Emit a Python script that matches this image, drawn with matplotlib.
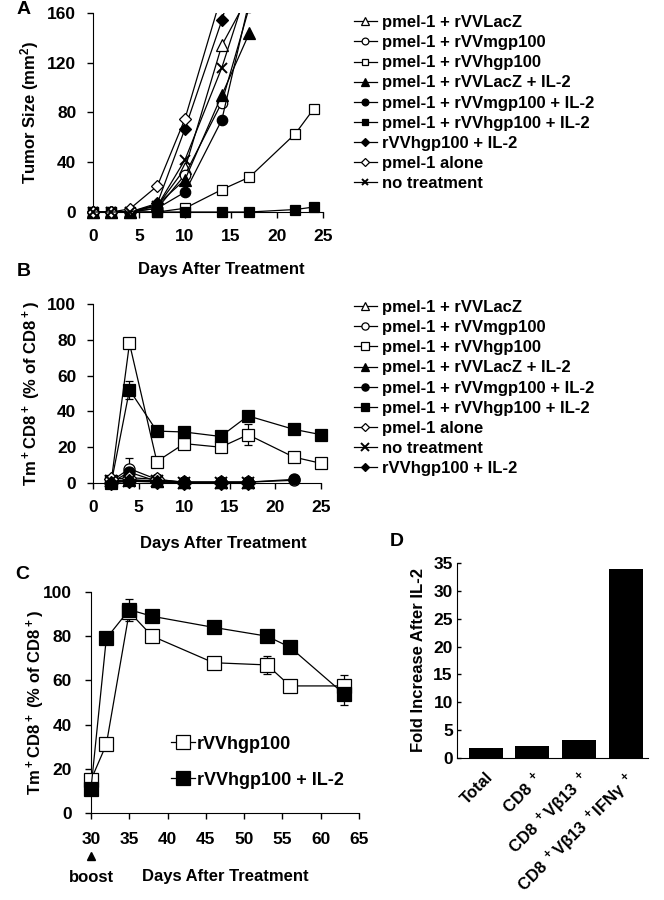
import numpy as np
import matplotlib
matplotlib.use('Agg')
import matplotlib.pyplot as plt
from matplotlib.patches import Rectangle
import matplotlib.transforms as mtransforms

plt.rcParams['font.family'] = ['Liberation Sans', 'DejaVu Sans']
plt.rcParams['font.weight'] = 'bold'
plt.rcParams['axes.labelweight'] = 'bold'
plt.rcParams['mathtext.fontset'] = 'custom'
plt.rcParams['mathtext.rm'] = 'Liberation Sans:bold'
plt.rcParams['mathtext.bf'] = 'Liberation Sans:bold'
plt.rcParams['mathtext.default'] = 'bf'

nan = np.nan

# ---- Panel A: tumor size ----
days_a = [0, 2, 4, 7, 10, 14, 17, 22, 24]
a_lacz = [0, 0, 0, 5, 35, 134, 175, nan, nan]
a_mgp = [0, 0, 0, 3, 30, 88, 165, nan, nan]
a_hgp = [0, 0, 0, 0, 3, 18, 28, 63, 83]
a_lacz_il2 = [0, 0, 0, 6, 26, 94, 144, nan, nan]
a_mgp_il2 = [0, 0, 0, 3, 16, 74, 170, nan, nan]
a_hgp_il2 = [0, 0, 0, 0, 0, 0, 0, 2, 4]
a_vv_il2 = [0, 0, 0, 7, 67, 154, 230, nan, nan]
a_alone = [0, 0, 2.5, 21, 75, 175, nan, nan, nan]
a_none = [0, 0, 0, 5, 42, 116, 185, nan, nan]

# ---- Panel B: tetramer+ CD8 ----
days_b = [2, 4, 7, 10, 14, 17, 22, 25]
b_lacz = [1, 2, 1, 0.3, 0.3, 0.3, nan, nan]
b_mgp = [1, 8, 2, 0.5, 0.5, 0.5, 1.5, nan]
b_hgp = [1, 78, 12, 22, 20, 27, 14.5, 11]
b_lacz_il2 = [0.5, 1.5, 1, 0.3, 0.3, 0.3, nan, nan]
b_mgp_il2 = [0.5, 6, 1, 0.5, 0.5, 0.5, 2, nan]
b_hgp_il2 = [0, 52, 29, 28.5, 26, 37.5, 30, 27]
b_alone = [2, 3, 2, 0.3, 0.3, 0.3, nan, nan]
b_none = [1, 1, 1, 0.2, 0.2, 0.2, nan, nan]
b_vv_il2 = [0, 1, 0.5, 0.2, 0.2, 0.2, nan, nan]
b_hgp_err = [0, 0, 0, 0, 0, 6, 0, 0]
b_hgp_il2_err = [0, 5, 0, 0, 0, 0, 0, 0]
b_mgp_err = [0, 6, 0, 0, 0, 0, 0, 0]

# ---- Panel C: after boost ----
days_c = [30, 32, 35, 38, 46, 53, 56, 63]
c_hgp = [15, 31, 91, 80, 68, 67, 57.5, 57.5]
c_hgp_il2 = [11, 79, 92, 89, 84, 80, 75, 54]
c_hgp_err_lo = [0, 0, 4, 0, 0, 4, 0, 0]
c_hgp_err_hi = [0, 0, 0, 0, 0, 4, 0, 5]
c_hgp_il2_err_lo = [0, 0, 0, 0, 0, 0, 0, 5]
c_hgp_il2_err_hi = [0, 0, 5, 0, 0, 0, 0, 0]

# ---- Panel D: fold increase ----
d_labels = ['Total', 'CD8 $^+$', 'CD8 $^+$Vβ13 $^+$', 'CD8 $^+$Vβ13 $^+$IFNγ $^+$']
d_values = [1.8, 2.1, 3.3, 34]

# marker styles per group: (marker, filled)
styles = {
    'pmel-1 + rVVLacZ': ('^', False),
    'pmel-1 + rVVmgp100': ('o', False),
    'pmel-1 + rVVhgp100': ('s', False),
    'pmel-1 + rVVLacZ + IL-2': ('^', True),
    'pmel-1 + rVVmgp100 + IL-2': ('o', True),
    'pmel-1 + rVVhgp100 + IL-2': ('s', True),
    'rVVhgp100 + IL-2': ('D', True),
    'pmel-1 alone': ('D', False),
    'no treatment': ('x', True),
}

TICK = 12.5
LAB = 12
LEG = 12


def style_axes(ax, size=TICK, pad=7):
    for s in ['top', 'right']:
        ax.spines[s].set_visible(False)
    ax.tick_params(direction='out', length=4, width=1, labelsize=size, pad=pad)
    for lab in ax.get_xticklabels() + ax.get_yticklabels():
        lab.set_fontweight('bold')


def draw(ax, x, y, name, ms, err=None, clip=None):
    m, filled = styles[name]
    fc = 'black' if filled else 'white'
    msz = ms * (0.85 if m == 'D' else 1.0)
    if m == '^':
        msz = ms * 1.1
    if err is not None:
        ax.errorbar(x, y, yerr=err, fmt='none', ecolor='black', elinewidth=0.9,
                    capsize=3, capthick=0.9, zorder=2.5, clip_on=False)
    line, = ax.plot(x, y, color='black', lw=0.9, marker=m, ms=msz, mfc=fc,
                    mec='black', mew=1.4 if m == 'x' else 0.9, label=name, zorder=3)
    if clip is not None:
        line.set_clip_path(clip)
    else:
        line.set_clip_on(False)
    return line


fig = plt.figure(figsize=(6.64, 9.0), dpi=100)
W, H = 664.0, 900.0


def px_axes(left, top, right, bottom):
    return fig.add_axes([left / W, 1 - bottom / H, (right - left) / W, (bottom - top) / H])


# ---------------- Panel A ----------------
axA = px_axes(93, 13, 323, 212)
clipA = Rectangle((-0.2, -0.2), 1.4, 1.2, transform=axA.transAxes)
a_series = [('pmel-1 + rVVLacZ', a_lacz), ('pmel-1 + rVVmgp100', a_mgp),
            ('pmel-1 + rVVhgp100', a_hgp), ('pmel-1 + rVVLacZ + IL-2', a_lacz_il2),
            ('pmel-1 + rVVmgp100 + IL-2', a_mgp_il2), ('pmel-1 + rVVhgp100 + IL-2', a_hgp_il2),
            ('rVVhgp100 + IL-2', a_vv_il2), ('pmel-1 alone', a_alone), ('no treatment', a_none)]
hA = []
for name, vals in a_series:
    hA.append(draw(axA, days_a, vals, name, 7.5, clip=clipA))
axA.set_xlim(0, 25)
axA.set_ylim(0, 160)
axA.set_xticks([0, 5, 10, 15, 20, 25])
axA.set_yticks([0, 40, 80, 120, 160])
style_axes(axA, pad=8)
axA.set_xlabel('Days After Treatment', fontsize=LAB)
axA.xaxis.set_label_coords(0.56, -0.25)
axA.set_ylabel('Tumor Size (mm$^2$)', fontsize=LAB)
axA.yaxis.set_label_coords(-0.225, 0.5)
fig.legend(handles=hA, loc='upper left', bbox_to_anchor=(354 / W, 1 - 15 / H),
           frameon=False, fontsize=LEG, handlelength=1.35, handletextpad=0.35,
           labelspacing=0.31, borderpad=0, borderaxespad=0, markerscale=0.65)

# ---------------- Panel B ----------------
axB = px_axes(93, 304, 321, 483)
b_series = [('pmel-1 + rVVLacZ', b_lacz, None), ('pmel-1 + rVVmgp100', b_mgp, [np.zeros(8), b_mgp_err]),
            ('pmel-1 + rVVhgp100', b_hgp, b_hgp_err), ('pmel-1 + rVVLacZ + IL-2', b_lacz_il2, None),
            ('pmel-1 + rVVmgp100 + IL-2', b_mgp_il2, None),
            ('pmel-1 + rVVhgp100 + IL-2', b_hgp_il2, b_hgp_il2_err),
            ('pmel-1 alone', b_alone, None), ('no treatment', b_none, None),
            ('rVVhgp100 + IL-2', b_vv_il2, None)]
hB = []
for name, vals, err in b_series:
    hB.append(draw(axB, days_b, vals, name, 8, err=err))
axB.set_xlim(0, 25)
axB.set_ylim(0, 100)
axB.set_xticks([0, 5, 10, 15, 20, 25])
axB.set_yticks([0, 20, 40, 60, 80, 100])
style_axes(axB, pad=8)
axB.set_xlabel('Days After Treatment', fontsize=LAB)
axB.xaxis.set_label_coords(0.57, -0.295)
axB.set_ylabel('Tm$^+$CD8$^+$ (% of CD8$^+$)', fontsize=LAB)
axB.yaxis.set_label_coords(-0.22, 0.5)
fig.legend(handles=hB, loc='upper left', bbox_to_anchor=(354 / W, 1 - 300 / H),
           frameon=False, fontsize=LEG, handlelength=1.35, handletextpad=0.35,
           labelspacing=0.31, borderpad=0, borderaxespad=0, markerscale=0.65)

# ---------------- Panel C ----------------
axC = px_axes(91, 592, 359, 813)
hc1 = draw(axC, days_c, c_hgp, 'pmel-1 + rVVhgp100', 10.5, err=[c_hgp_err_lo, c_hgp_err_hi])
hc2 = draw(axC, days_c, c_hgp_il2, 'pmel-1 + rVVhgp100 + IL-2', 10.5,
           err=[c_hgp_il2_err_lo, c_hgp_il2_err_hi])
axC.set_xlim(30, 65)
axC.set_ylim(0, 100)
axC.set_xticks(range(30, 66, 5))
axC.set_yticks([0, 20, 40, 60, 80, 100])
style_axes(axC, pad=10)
axC.set_xlabel('Days After Treatment', fontsize=LAB)
axC.xaxis.set_label_coords(0.5, -0.255)
axC.set_ylabel('Tm$^+$CD8$^+$ (% of CD8$^+$)', fontsize=LAB)
axC.yaxis.set_label_coords(-0.165, 0.5)
axC.legend([hc1, hc2], ['rVVhgp100', 'rVVhgp100 + IL-2'], loc='upper left',
           bbox_to_anchor=(0.3, 0.35), frameon=False, fontsize=13, handlelength=1.3,
           handletextpad=0.1, labelspacing=1.05, borderpad=0, borderaxespad=0)
blend = mtransforms.blended_transform_factory(axC.transData, axC.transAxes)
axC.plot([30], [-0.195], marker='^', color='black', ms=6, transform=blend, clip_on=False)
axC.text(30, -0.29, 'boost', transform=blend, ha='center', va='center', fontsize=LAB,
         fontweight='bold')

# ---------------- Panel D ----------------
axD = px_axes(457, 563, 648, 758)
xd = np.arange(len(d_values))
axD.bar(xd, d_values, width=0.73, color='black')
axD.set_xlim(-0.62, 3.48)
axD.set_ylim(0, 35)
axD.set_yticks(range(0, 36, 5))
axD.set_xticks(xd)
axD.set_xticklabels(d_labels, rotation=45, ha='right', rotation_mode='anchor')
style_axes(axD, pad=6)
axD.tick_params(axis='y', direction='in', length=3, pad=3)
axD.tick_params(axis='x', length=0, labelsize=LAB, pad=8)
axD.set_ylabel('Fold Increase After IL-2', fontsize=LAB)
axD.yaxis.set_label_coords(-0.16, 0.5)

# panel letters
fig.text(17 / W, 1 - 1 / H, 'A', fontsize=14, fontweight='bold', va='top')
fig.text(17 / W, 1 - 263 / H, 'B', fontsize=14, fontweight='bold', va='top')
fig.text(15 / W, 1 - 566 / H, 'C', fontsize=14, fontweight='bold', va='top')
fig.text(390 / W, 1 - 533 / H, 'D', fontsize=14, fontweight='bold', va='top')

fig.savefig('out.png', dpi=100)
